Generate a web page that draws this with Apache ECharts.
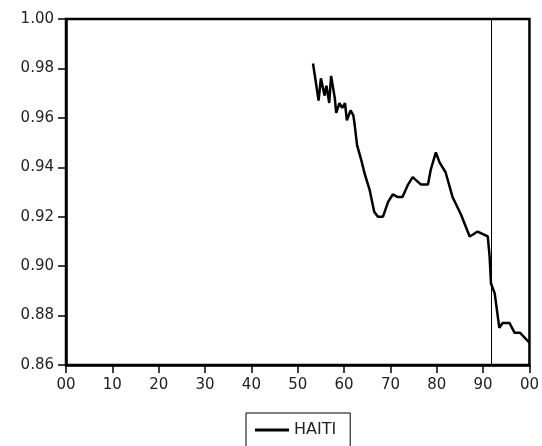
<!DOCTYPE html>
<html lang="en">
<head>
    <meta charset="utf-8"/>
    <title>HAITI</title>
    <script src="https://cdn.jsdelivr.net/npm/echarts@6/dist/echarts.min.js"></script>
    <style>
        html, body { margin: 0; padding: 0; background: #fff; }
        #chart { width: 542px; height: 446px; }
    </style>
</head>
<body>
<div id="chart"></div>
<script>
    // data
    var years = [
        1953.3, 1954.5, 1955.0, 1955.8, 1956.2, 1956.8, 1957.2, 1958.0, 1958.3, 1959.0,
        1959.6, 1960.2, 1960.6, 1961.4, 1962.0, 1962.3, 1962.8, 1963.7, 1964.5, 1965.5,
        1966.5, 1967.3, 1968.4, 1969.5, 1970.5, 1971.5, 1972.6, 1973.8, 1974.8, 1976.6,
        1978.1, 1978.7, 1979.8, 1980.6, 1981.9, 1983.4, 1985.2, 1987.1, 1988.0, 1988.8,
        1991.0, 1991.4, 1991.7, 1992.5, 1993.5, 1994.2, 1995.7, 1996.8, 1998.0, 2000.0
    ];
    var haiti = [
        0.982, 0.967, 0.976, 0.969, 0.973, 0.966, 0.977, 0.968, 0.962, 0.966,
        0.964, 0.966, 0.959, 0.963, 0.961, 0.957, 0.949, 0.943, 0.937, 0.931,
        0.922, 0.920, 0.920, 0.926, 0.929, 0.928, 0.928, 0.933, 0.936, 0.933,
        0.933, 0.939, 0.946, 0.942, 0.938, 0.928, 0.921, 0.912, 0.913, 0.914,
        0.912, 0.904, 0.893, 0.889, 0.875, 0.877, 0.877, 0.873, 0.873, 0.869
    ];
    var xTickLabels = ['00', '10', '20', '30', '40', '50', '60', '70', '80', '90', '00'];
    var markYear = 1991.7;

    var font = 'DejaVu Sans';
    var points = [];
    for (var i = 0; i < years.length; i++) {
        points.push([years[i], haiti[i]]);
    }

    var chart = echarts.init(document.getElementById('chart'));
    var option = {
        animation: false,
        grid: {
            left: 66, right: 10, top: 19, bottom: 81,
            show: true, borderColor: '#000', borderWidth: 2.5
        },
        legend: {
            data: ['HAITI'],
            left: 246, top: 413,
            padding: [9, 14, 30, 9],
            itemGap: 6,
            itemWidth: 34, itemHeight: 3,
            icon: 'rect',
            borderColor: '#000', borderWidth: 1,
            textStyle: { fontFamily: font, fontSize: 16, color: '#222' }
        },
        xAxis: {
            type: 'value',
            min: 1900, max: 2000, interval: 10,
            splitLine: { show: false },
            axisLine: { lineStyle: { color: '#000', width: 2.5 } },
            axisTick: { length: 8, lineStyle: { color: '#000', width: 1.5 } },
            axisLabel: {
                margin: 13,
                fontFamily: font, fontSize: 15, color: '#222',
                formatter: function (v) { return xTickLabels[Math.round((v - 1900) / 10)]; }
            }
        },
        yAxis: {
            type: 'value',
            min: 0.86, max: 1.00, interval: 0.02,
            splitLine: { show: false },
            axisLine: { show: true, lineStyle: { color: '#000', width: 2.5 } },
            axisTick: { show: true, length: 8, lineStyle: { color: '#000', width: 1.5 } },
            axisLabel: {
                margin: 12,
                fontFamily: font, fontSize: 15, color: '#222',
                formatter: function (v) { return v.toFixed(2); }
            }
        },
        series: [{
            name: 'HAITI',
            type: 'line',
            data: points,
            showSymbol: false,
            itemStyle: { color: '#000' },
            lineStyle: { color: '#000', width: 2.5 },
            markLine: {
                silent: true,
                symbol: 'none',
                label: { show: false },
                lineStyle: { color: '#000', width: 1, type: 'solid' },
                data: [{ xAxis: markYear }]
            }
        }]
    };
    chart.setOption(option);
</script>
</body>
</html>
